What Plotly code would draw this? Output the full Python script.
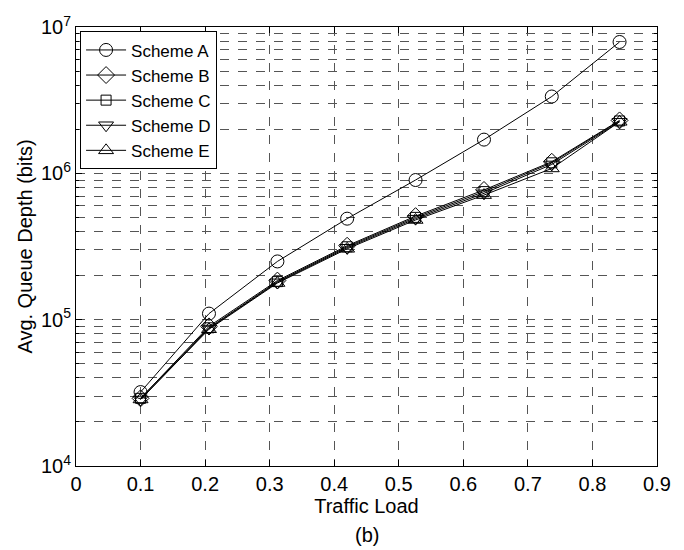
import plotly.graph_objects as go

traffic_load = [0.1, 0.206, 0.312, 0.42, 0.526, 0.632, 0.737, 0.842]
scheme_a = [3.2e4, 1.1e5, 2.5e5, 4.9e5, 9.0e5, 1.7e6, 3.35e6, 7.9e6]
scheme_b = [2.9e4, 9.0e4, 1.85e5, 3.2e5, 5.1e5, 7.7e5, 1.2e6, 2.3e6]
scheme_c = [2.9e4, 8.8e4, 1.82e5, 3.15e5, 5.0e5, 7.5e5, 1.18e6, 2.28e6]
scheme_d = [2.85e4, 8.7e4, 1.8e5, 3.1e5, 4.9e5, 7.3e5, 1.15e6, 2.25e6]
scheme_e = [2.85e4, 8.6e4, 1.78e5, 3.05e5, 4.8e5, 7.1e5, 1.08e6, 2.25e6]

series = [
    ("Scheme A", scheme_a, "circle-open", 13),
    ("Scheme B", scheme_b, "diamond-open", 13),
    ("Scheme C", scheme_c, "square-open", 10),
    ("Scheme D", scheme_d, "triangle-down-open", 13),
    ("Scheme E", scheme_e, "triangle-up-open", 13),
]

x_ticks = [0, 0.1, 0.2, 0.3, 0.4, 0.5, 0.6, 0.7, 0.8, 0.9]
y_ticks = [1e4, 1e5, 1e6, 1e7]
y_ticktext = ["10<sup>4</sup>", "10<sup>5</sup>", "10<sup>6</sup>", "10<sup>7</sup>"]

FONT = "Liberation Sans, Arial, sans-serif"

fig = go.Figure()
for name, vals, sym, sz in series:
    fig.add_trace(go.Scatter(
        x=traffic_load, y=vals, name=name, mode="lines+markers",
        line=dict(color="black", width=1),
        marker=dict(symbol=sym, size=sz, color="black", line=dict(width=1, color="black")),
    ))

grid_color = "#555555"
fig.update_layout(
    width=684, height=550,
    margin=dict(l=76, r=27, t=27, b=84),
    paper_bgcolor="white", plot_bgcolor="white",
    font=dict(family=FONT, size=20, color="black"),
    showlegend=True,
    legend=dict(
        x=0.007, y=0.99, xanchor="left", yanchor="top",
        bgcolor="white", bordercolor="black", borderwidth=1,
        font=dict(size=17, family=FONT), tracegroupgap=0, itemwidth=40,
    ),
    xaxis=dict(
        range=[0, 0.9], tickvals=x_ticks, ticktext=[str(v) for v in x_ticks],
        showline=True, linecolor="black", linewidth=1, mirror="ticks",
        ticks="inside", ticklen=6, tickcolor="black",
        showgrid=True, gridcolor=grid_color, griddash="dash", gridwidth=1,
        zeroline=False,
        title=dict(text="Traffic Load", standoff=4, font=dict(size=20)),
        tickfont=dict(size=20),
    ),
    yaxis=dict(
        type="log", range=[4, 7], tickvals=y_ticks, ticktext=y_ticktext,
        showline=True, linecolor="black", linewidth=1, mirror="ticks",
        ticks="inside", ticklen=6, tickcolor="black",
        showgrid=True, gridcolor=grid_color, griddash="dash", gridwidth=1,
        zeroline=False,
        minor=dict(dtick="D1", ticks="inside", ticklen=3, tickcolor="black",
                   showgrid=True, gridcolor=grid_color, griddash="dash", gridwidth=1),
        title=dict(text="Avg. Queue Depth (bits)", standoff=2, font=dict(size=20)),
        tickfont=dict(size=20),
    ),
)

fig.add_annotation(
    text="(b)", xref="paper", yref="paper", x=0.5, y=-69 / 439,
    xanchor="center", yanchor="middle", showarrow=False,
    font=dict(size=20, family=FONT, color="black"),
)

fig.write_html("out.html")
